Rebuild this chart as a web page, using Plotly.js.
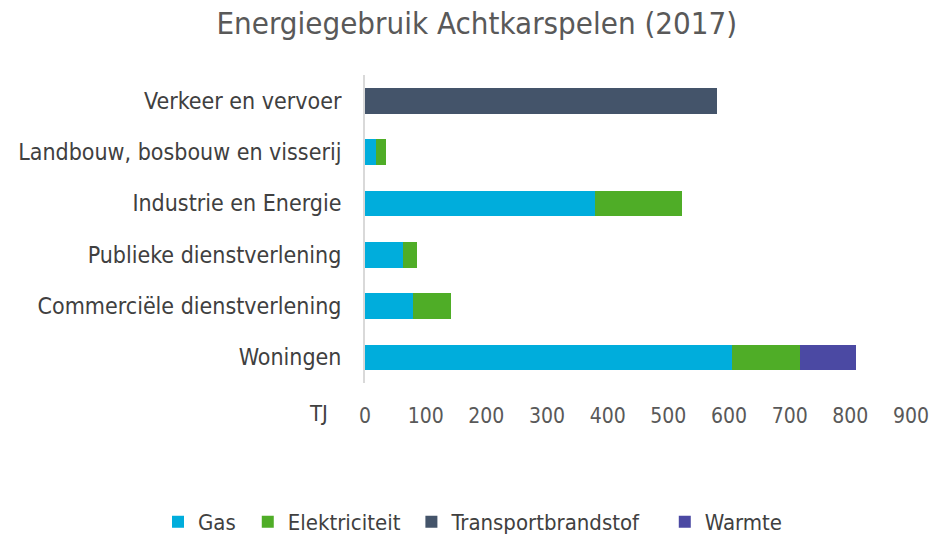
<!DOCTYPE html>
<html>
<head>
<meta charset="utf-8">
<script src="https://cdn.plot.ly/plotly-3.0.1.min.js"></script>
<style>html,body{margin:0;padding:0;background:#fff;}#chart{width:935px;height:537px;}</style>
</head>
<body>
<div id="chart"></div>
<script>
const categories = ["Verkeer en vervoer", "Landbouw, bosbouw en visserij", "Industrie en Energie", "Publieke dienstverlening", "Commerciële dienstverlening", "Woningen"];
const gas = [0, 18, 379, 62, 79, 605];
const elektriciteit = [0, 16, 144, 23, 63, 112];
const transportbrandstof = [580, 0, 0, 0, 0, 0];
const warmte = [0, 0, 0, 0, 0, 93];
const tickValues = [0, 100, 200, 300, 400, 500, 600, 700, 800, 900];

const FONT = "'DejaVu Sans Condensed', 'DejaVu Sans', sans-serif";
function tr(name, vals, color, legend) {
  return {type: 'bar', orientation: 'h', name: name, x: vals, y: categories, legend: legend,
    marker: {color: color, line: {width: 0}}, hoverinfo: 'x+name'};
}
const data = [
  tr('Gas', gas, '#00ADDC', 'legend'),
  tr('Elektriciteit', elektriciteit, '#4FAD27', 'legend2'),
  tr('Transportbrandstof', transportbrandstof, '#44546A', 'legend3'),
  tr('Warmte', warmte, '#4B49A3', 'legend4')
];
function leg(x) {
  return {orientation: 'h', xref: 'container', yref: 'container', x: x, xanchor: 'left', y: 0.028, yanchor: 'middle',
    font: {family: FONT, size: 22, color: '#404040'}, itemwidth: 30, bgcolor: 'rgba(0,0,0,0)'};
}
const layout = {
  width: 935, height: 537,
  barmode: 'stack', bargap: 0.5,
  paper_bgcolor: '#fff', plot_bgcolor: '#fff',
  margin: {l: 365, r: 24, t: 75, b: 154, autoexpand: false},
  font: {family: FONT, color: '#404040', size: 21},
  title: {text: 'Energiegebruik Achtkarspelen (2017)', x: 0.51, xanchor: 'center', y: 0.956, yanchor: 'middle',
    font: {family: FONT, size: 31, color: '#595959'}},
  xaxis: {range: [0, 900], tickvals: tickValues, ticktext: tickValues.map(String),
    showgrid: false, zeroline: false, showline: false, ticks: '', ticklabelstandoff: 18,
    tickfont: {family: FONT, size: 21, color: '#595959'}, fixedrange: true},
  yaxis: {autorange: 'reversed', showgrid: false, zeroline: false,
    showline: true, linecolor: '#D9D9D9', linewidth: 2, ticks: '', ticklabelstandoff: 17,
    tickfont: {family: FONT, size: 23, color: '#404040'}, fixedrange: true},
  legend: leg(0.169),
  legend2: leg(0.265),
  legend3: leg(0.440),
  legend4: leg(0.711),
  annotations: [{text: 'TJ', xref: 'paper', yref: 'paper', x: -0.086, y: -0.1, xanchor: 'center', yanchor: 'middle',
    showarrow: false, font: {family: FONT, size: 22, color: '#404040'}}],
  showlegend: true
};
Plotly.newPlot('chart', data, layout, {displayModeBar: false, staticPlot: true});
</script>
</body>
</html>
